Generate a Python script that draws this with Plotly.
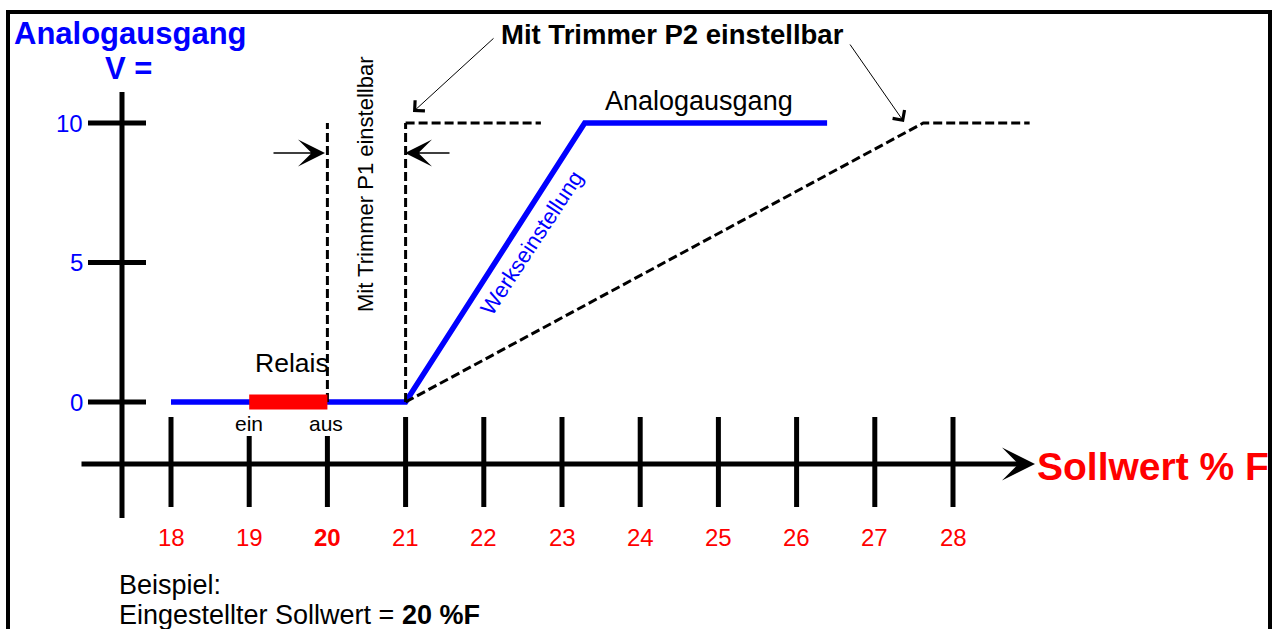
import plotly.graph_objects as go

# ---------------- data ----------------
sollwert_ticks = [18, 19, 20, 21, 22, 23, 24, 25, 26, 27, 28]
sollwert_labels = ["18", "19", "<b>20</b>", "21", "22", "23", "24", "25", "26", "27", "28"]
volt_ticks = [0, 5, 10]
volt_labels = ["0", "5", "10"]

werk_x = [18, 21, 23.29, 26.39]          # Werkseinstellung (blue)
werk_y = [0, 0, 10, 10]
p2_x = [21, 27.62, 28.98]                # P2 adjusted (dashed)
p2_y = [0, 10, 10]
p2_top_x = [21, 22.73]                   # dashed top at 10 V
p2_top_y = [10, 10]
p1_x = [20, 21]                          # P1 adjustable range (vertical dashed)
p1_top = 10
relais_x = [19, 20]                      # relay on/off
relais_y = [0, 0]

# ---------------- geometry helpers (pixel -> data) ----------------
W, H = 1275, 629
X0PX, XSC = 171.0, 78.2    # px of x=18, px per unit
Y0PX, YSC = 402.0, 27.9    # px of y=0, px per unit


def px_x(p):
    return 18 + (p - X0PX) / XSC


def px_y(p):
    return (Y0PX - p) / YSC


FONT = "Liberation Sans, Arial, sans-serif"
BLUE = "#0000FF"
RED = "#FF0000"
DASH = dict(color="black", width=3, dash="9px,4px")

fig = go.Figure()

# blue line
fig.add_trace(go.Scatter(x=werk_x, y=werk_y, mode="lines",
                         line=dict(color=BLUE, width=5.5), hoverinfo="skip"))
# dashed P2 curve
fig.add_trace(go.Scatter(x=p2_x, y=p2_y, mode="lines", line=DASH, hoverinfo="skip"))
fig.add_trace(go.Scatter(x=p2_top_x, y=p2_top_y, mode="lines", line=DASH, hoverinfo="skip"))
# dashed verticals P1
for xv in p1_x:
    fig.add_trace(go.Scatter(x=[xv, xv], y=[0, p1_top], mode="lines", line=DASH, hoverinfo="skip"))
# relay bar
fig.add_trace(go.Scatter(x=relais_x, y=relais_y, mode="lines",
                         line=dict(color=RED, width=15), hoverinfo="skip"))

shapes = []
# y axis line
yaxis_x = px_x(122)
shapes.append(dict(type="line", xref="x", yref="y", x0=yaxis_x, x1=yaxis_x,
                   y0=px_y(518), y1=px_y(92), line=dict(color="black", width=5)))
# y ticks
for v in volt_ticks:
    shapes.append(dict(type="line", xref="x", yref="y", x0=px_x(88), x1=px_x(146),
                       y0=v, y1=v, line=dict(color="black", width=5)))
# x ticks
xaxis_y = px_y(464)
for v in sollwert_ticks:
    top = px_y(436) if v in (19, 20) else px_y(417)
    shapes.append(dict(type="line", xref="x", yref="y", x0=v, x1=v,
                       y0=top, y1=px_y(507), line=dict(color="black", width=5)))
# border frame
shapes.append(dict(type="rect", xref="paper", yref="paper",
                   x0=8 / W, x1=1270 / W, y0=-0.2, y1=1 - 12 / H,
                   line=dict(color="black", width=4), fillcolor="rgba(0,0,0,0)"))

ann = []
# x axis with arrow
ann.append(dict(x=px_x(1035), y=xaxis_y, ax=px_x(80), ay=xaxis_y, xref="x", yref="y",
                axref="x", ayref="y", text="", showarrow=True, arrowhead=3,
                arrowwidth=5, arrowsize=1.1, arrowcolor="black", standoff=0))
# y tick labels
for v, lab in zip(volt_ticks, volt_labels):
    ann.append(dict(x=px_x(85), y=v, xref="x", yref="y", text=lab, showarrow=False,
                    xanchor="right", yanchor="middle", font=dict(family=FONT, size=24, color=BLUE)))
# x tick labels
for v, lab in zip(sollwert_ticks, sollwert_labels):
    ann.append(dict(x=v, y=px_y(537), xref="x", yref="y", text=lab, showarrow=False,
                    xanchor="center", yanchor="middle", font=dict(family=FONT, size=24, color=RED)))

def txt(xp, yp, text, size, color="black", xanchor="center", angle=0):
    ann.append(dict(x=px_x(xp), y=px_y(yp), xref="x", yref="y", text=text, showarrow=False,
                    xanchor=xanchor, yanchor="middle", textangle=angle,
                    font=dict(family=FONT, size=size, color=color)))

txt(130, 33, "<b>Analogausgang</b>", 31, BLUE)
txt(128, 68, "<b>V =</b>", 31, BLUE)
txt(672, 34, "<b>Mit Trimmer P2 einstellbar</b>", 27.5)
txt(699, 101, "Analogausgang", 27)
txt(365, 184, "Mit Trimmer P1 einstellbar", 22, angle=-90)
txt(531, 243, "Werkseinstellung", 22, BLUE, angle=-56.6)
txt(292, 363, "Relais", 26.5)
txt(249, 423, "ein", 21)
txt(326, 423, "aus", 21)
txt(1035, 466, "<b>Sollwert % F</b>", 39, RED, xanchor="left")
txt(117, 585, "Beispiel:", 27, xanchor="left")
txt(117, 615, "Eingestellter Sollwert = <b>20 %F</b>", 27, xanchor="left")

# P1 arrows
ann.append(dict(x=px_x(325), y=px_y(153), ax=px_x(272), ay=px_y(153), xref="x", yref="y",
                axref="x", ayref="y", text="", showarrow=True, arrowhead=3, arrowwidth=1.5,
                arrowsize=3, arrowcolor="black", standoff=0))
ann.append(dict(x=px_x(405), y=px_y(153), ax=px_x(451), ay=px_y(153), xref="x", yref="y",
                axref="x", ayref="y", text="", showarrow=True, arrowhead=3, arrowwidth=1.5,
                arrowsize=3, arrowcolor="black", standoff=0))
# P2 pointer arrows
ann.append(dict(x=px_x(413), y=px_y(112), ax=px_x(495), ay=px_y(37), xref="x", yref="y",
                axref="x", ayref="y", text="", showarrow=True, arrowhead=4, arrowwidth=1,
                arrowsize=2.8, arrowcolor="black", standoff=0))
ann.append(dict(x=px_x(904), y=px_y(122), ax=px_x(849), ay=px_y(43), xref="x", yref="y",
                axref="x", ayref="y", text="", showarrow=True, arrowhead=4, arrowwidth=1,
                arrowsize=2.8, arrowcolor="black", standoff=0))

fig.update_layout(
    width=W, height=H, margin=dict(l=0, r=0, t=0, b=0),
    paper_bgcolor="white", plot_bgcolor="white", showlegend=False,
    xaxis=dict(range=[px_x(0), px_x(W)], visible=False, fixedrange=True),
    yaxis=dict(range=[px_y(H), px_y(0)], visible=False, fixedrange=True),
    shapes=shapes, annotations=ann,
)

fig.write_html("out.html", config={"displayModeBar": False},
               post_script="document.body.style.margin='0';document.body.style.overflow='hidden';")
